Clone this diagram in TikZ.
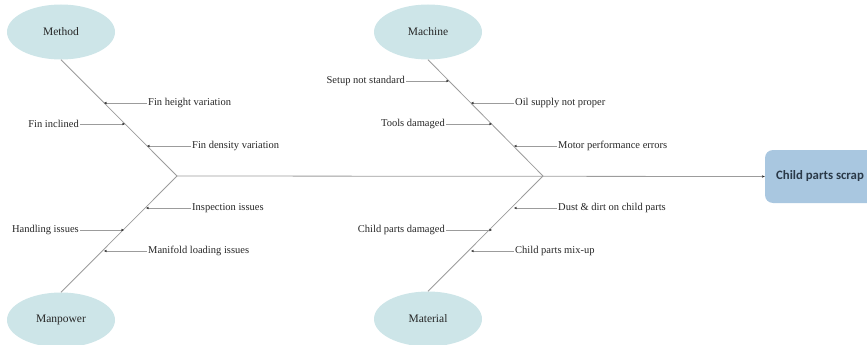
\documentclass[tikz,border=0pt]{standalone}
\usepackage{fontspec}
\setmainfont{Liberation Serif}
\newfontfamily\boxfont{Carlito}
\usetikzlibrary{shapes.geometric,arrows.meta}
\definecolor{catfill}{HTML}{CDE5E8}
\definecolor{effectfill}{HTML}{A9C7E0}
\definecolor{bonegray}{HTML}{9C9C9C}
\definecolor{inkgray}{HTML}{262626}
\definecolor{effectink}{HTML}{2A3948}
\begin{document}
\begin{tikzpicture}[x=1pt,y=-1pt,
  category/.style={ellipse,draw=none,fill=catfill,minimum width=108pt,minimum height=55pt,inner sep=0pt,font=\fontsize{11.5}{13}\selectfont,text=inkgray},
  effect/.style={rectangle,rounded corners=8pt,fill=effectfill,minimum width=110pt,minimum height=53pt,inner sep=0pt,font=\boxfont\bfseries\fontsize{12.8}{14}\selectfont,text=effectink},
  cause/.style={inner sep=1pt,font=\fontsize{10.5}{12}\selectfont,text=inkgray},
  bone/.style={draw=bonegray,line width=0.8pt},
  tipped/.style={-{Stealth[length=3pt,width=2.4pt,color=inkgray]}},
  sub/.style={draw=bonegray,line width=0.6pt,tipped}
]
\useasboundingbox (0,0) rectangle (867,345);

% categories and effect
\node[category] (method)   at (61,32)  {Method};
\node[category] (manpower) at (61,320) {Manpower};
\node[category] (machine)  at (428,32) {Machine};
\node[category] (material) at (428,319) {Material};
\node[effect]   (scrap)    at (820,176.5) {Child parts scrap};

% joints on the spine
\coordinate (j1) at (177,176);
\coordinate (j2) at (543,176);

% spine and bones
\draw[bone,tipped] (j1) -- (scrap.west);
\draw[bone] (method.south)   -- (j1);
\draw[bone] (manpower.north) -- (j1);
\draw[bone] (machine.south)  -- (j2);
\draw[bone] (material.north) -- (j2);

% Method causes
\coordinate (m1) at (104,103);
\coordinate (m2) at (125,124);
\coordinate (m3) at (147,146);
\node[cause,anchor=west] (fh) at (147,103) {Fin height variation};
\node[cause,anchor=east] (fi) at (80,124)  {Fin inclined};
\node[cause,anchor=west] (fd) at (191,146) {Fin density variation};
\draw[sub] (fh.west) -- (m1);
\draw[sub] (fi.east) -- (m2);
\draw[sub] (fd.west) -- (m3);

% Manpower causes
\coordinate (p1) at (146,208);
\coordinate (p2) at (124,230);
\coordinate (p3) at (104,251);
\node[cause,anchor=west] (ii) at (191,208) {Inspection issues};
\node[cause,anchor=east] (hi) at (80,230)  {Handling issues};
\node[cause,anchor=west] (ml) at (147,251) {Manifold loading issues};
\draw[sub] (ii.west) -- (p1);
\draw[sub] (hi.east) -- (p2);
\draw[sub] (ml.west) -- (p3);

% Machine causes
\coordinate (c1) at (449,81);
\coordinate (c2) at (471,103);
\coordinate (c3) at (492,124);
\coordinate (c4) at (514,146);
\node[cause,anchor=east] (su) at (406,81)  {Setup not standard};
\node[cause,anchor=west] (os) at (514,103) {Oil supply not proper};
\node[cause,anchor=east] (td) at (446,124) {Tools damaged};
\node[cause,anchor=west] (mp) at (557,146) {Motor performance errors};
\draw[sub] (su.east) -- (c1);
\draw[sub] (os.west) -- (c2);
\draw[sub] (td.east) -- (c3);
\draw[sub] (mp.west) -- (c4);

% Material causes
\coordinate (t1) at (514,208);
\coordinate (t2) at (492,230);
\coordinate (t3) at (471,251);
\node[cause,anchor=west] (dd) at (557,208) {Dust \& dirt on child parts};
\node[cause,anchor=east] (cd) at (446,230) {Child parts damaged};
\node[cause,anchor=west] (cm) at (514,251) {Child parts mix-up};
\draw[sub] (dd.west) -- (t1);
\draw[sub] (cd.east) -- (t2);
\draw[sub] (cm.west) -- (t3);
\end{tikzpicture}
\end{document}
